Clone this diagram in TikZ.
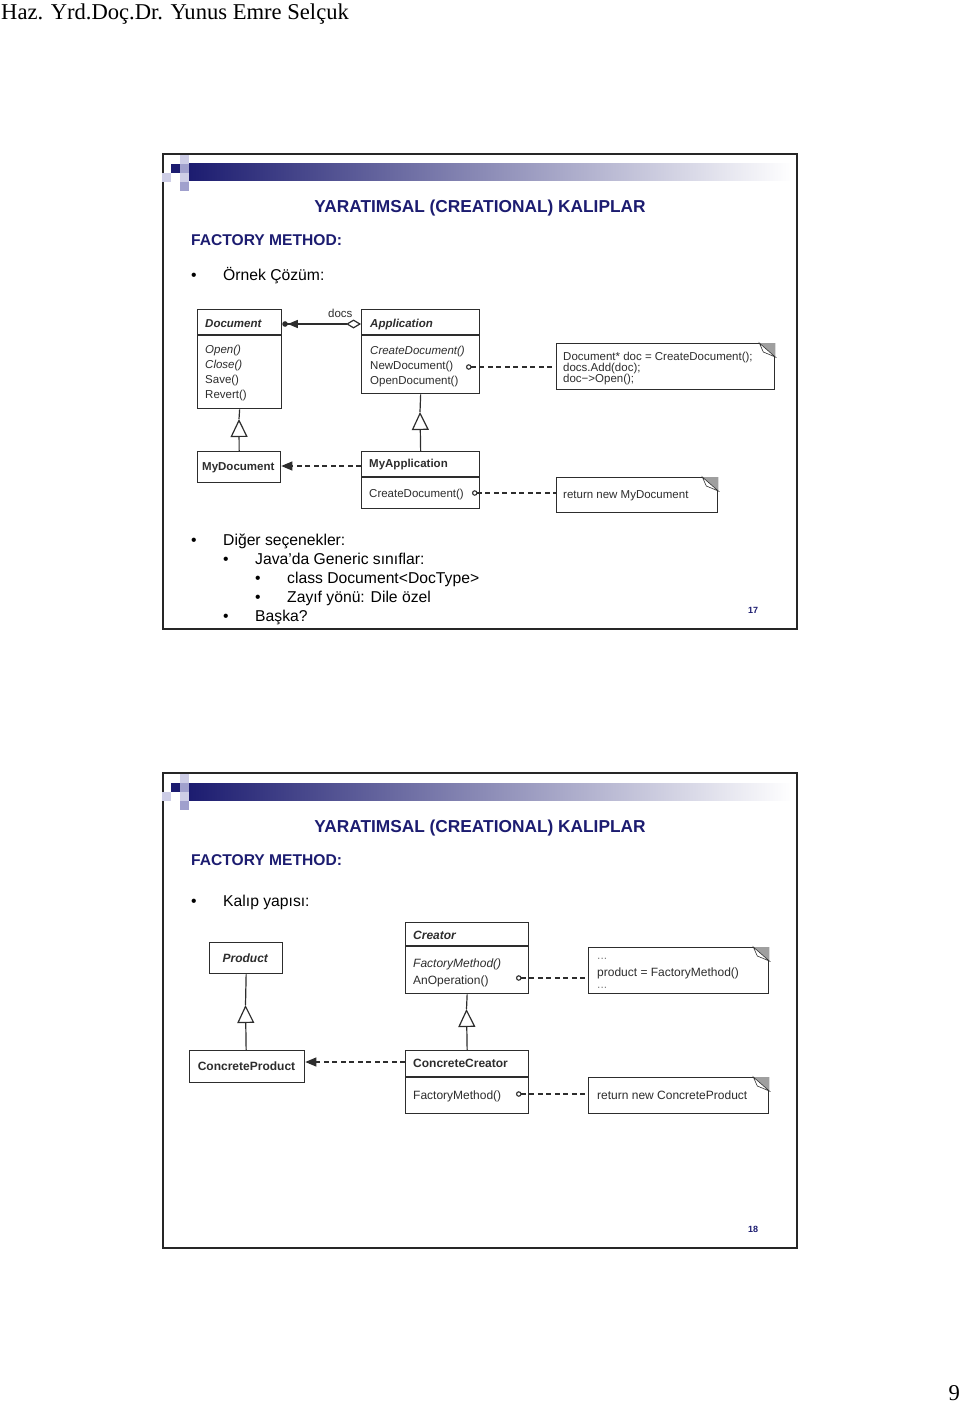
\documentclass[tikz,border=0pt]{standalone}
\usepackage{fontspec}
\setmainfont{Liberation Sans}
\newfontfamily\timesf{Liberation Serif}
\usetikzlibrary{arrows.meta}
\definecolor{navy}{RGB}{28,28,112}
\definecolor{umlgray}{RGB}{45,45,45}
\definecolor{lavA}{RGB}{205,205,230}
\definecolor{lavB}{RGB}{160,160,205}
\newcommand\foldcorner[1]{%
  \fill[gray!75] ([xshift=-16pt]#1.north east) -- (#1.north east) -- ([yshift=-14pt]#1.north east) -- cycle;
  \filldraw[fill=white, draw=umlgray, line width=0.6pt] ([xshift=-16pt]#1.north east) -- ([yshift=-14pt]#1.north east) -- ([xshift=-12pt,yshift=-9pt]#1.north east) -- cycle;}
\newcommand\slidedeco[1]{%
  \begin{scope}[yshift=-#1pt]
  \shade[left color=navy, right color=white] (189,164) rectangle (792,181);
  \fill[navy] (171,164) rectangle (180,173);
  \fill[lavA] (180,155) rectangle (189,164);
  \fill[lavB] (180,164) rectangle (189,173);
  \fill[lavA] (180,173) rectangle (189,182);
  \fill[lavA] (162,173) rectangle (171,182);
  \fill[lavB] (180,182) rectangle (189,191);
  \end{scope}}
\begin{document}
\begin{tikzpicture}[x=1pt,y=-1pt,
  umlbox/.style={draw=umlgray, line width=1.3pt, anchor=north west, inner sep=0pt, fill=white},
  umlline/.style={draw=umlgray, line width=1.2pt},
  umldash/.style={draw=umlgray, line width=1.1pt, dash pattern=on 5pt off 3.5pt},
  ut/.style={anchor=base west, inner sep=0pt, text=umlgray, font=\fontsize{\umlfs}{13}\selectfont},
  utc/.style={ut, anchor=base},
  slideframe/.style={draw=black!85, line width=1.8pt},
  titletxt/.style={anchor=base, inner sep=0pt, text=navy, font=\fontsize{17.3}{20}\selectfont\bfseries},
  fmtxt/.style={anchor=base west, inner sep=0pt, text=navy, font=\fontsize{15.6}{18}\selectfont\bfseries},
  bodytxt/.style={anchor=base west, inner sep=0pt, font=\fontsize{15.7}{18}\selectfont},
  pagenum/.style={inner sep=0pt, text=navy, font=\fontsize{9}{10}\selectfont\bfseries},
  inh/.style={umlline, -{Triangle[fill=white,length=18pt,width=17pt]}},
  dep/.style={umldash, -{Triangle[length=11pt,width=9pt]}},
  notelink/.style={umldash, {Circle[open,length=5.5pt,width=5.5pt]}-}
]
\useasboundingbox (0,0) rectangle (960,1404);
\def\umlfs{11.5}
% page header and number
\node[anchor=base west, inner sep=0pt, font=\timesf\fontsize{22.6}{26}\selectfont] (hdr) at (1,20) {Haz. Yrd.Doç.Dr. Yunus Emre Selçuk};
\node[anchor=base east, inner sep=0pt, font=\timesf\fontsize{22.6}{26}\selectfont] (pg) at (960,1400) {9};

% ================= slide 1 =================
\draw[slideframe] (163,154) rectangle (797,629);
\slidedeco{0}
\node[titletxt] (t1) at (480,213) {YARATIMSAL (CREATIONAL) KALIPLAR};
\node[fmtxt] (fm1) at (191,246) {FACTORY METHOD:};
\node[bodytxt] (b1d) at (191,281) {•};
\node[bodytxt] (b1) at (223,281) {Örnek Çözüm:};

% classes
\node[umlbox, minimum width=84pt, minimum height=99pt] (doc) at (197,309) {};
\draw[umlline] ([yshift=-26pt]doc.north west) -- ([yshift=-26pt]doc.north east);
\node[ut] (docT) at (205,327) {\textbf{\textit{Document}}};
\node[ut] (docM1) at (205,353) {\textit{Open()}};
\node[ut] (docM2) at (205,368) {\textit{Close()}};
\node[ut] (docM3) at (205,383) {Save()};
\node[ut] (docM4) at (205,398) {Revert()};

\node[umlbox, minimum width=118pt, minimum height=84pt] (app) at (361,309) {};
\draw[umlline] ([yshift=-26pt]app.north west) -- ([yshift=-26pt]app.north east);
\node[ut] (appT) at (370,327) {\textbf{\textit{Application}}};
\node[ut] (appM1) at (370,354) {\textit{CreateDocument()}};
\node[ut] (appM2) at (370,369) {NewDocument()};
\node[ut] (appM3) at (370,384) {OpenDocument()};

\node[umlbox, minimum width=218pt, minimum height=46pt] (n1) at (556,343) {};
\foldcorner{n1}
\node[ut] (n1a) at (563,360) {Document* doc = CreateDocument();};
\node[ut] (n1b) at (563,371) {docs.Add(doc);};
\node[ut] (n1c) at (563,382) {doc−>Open();};

\node[umlbox, minimum width=83pt, minimum height=31pt] (mydoc) at (197,451) {};
\node[ut] (mydocT) at (202,470) {\textbf{MyDocument}};

\node[umlbox, minimum width=118pt, minimum height=57pt] (myapp) at (361,451) {};
\draw[umlline] ([yshift=-26pt]myapp.north west) -- ([yshift=-26pt]myapp.north east);
\node[ut] (myappT) at (369,467) {\textbf{MyApplication}};
\node[ut] (myappM) at (369,497) {CreateDocument()};

\node[umlbox, minimum width=161pt, minimum height=35pt] (n2) at (556,477) {};
\foldcorner{n2}
\node[ut] (n2a) at (563,498) {return new MyDocument};

% connectors slide 1
\coordinate (agg) at ([yshift=-15pt]doc.north east);
\draw[umlline, {Circle[length=5.5pt] Triangle[length=10pt,width=8pt]}-{Diamond[fill=white,length=15pt,width=9pt]}] (agg) -- (agg -| app.west);
\node[ut] (docs) at (328,317) {docs};
\coordinate (tri1) at (239,419);
\draw[inh] (mydoc.north) -- (tri1);
\draw[umlline] (tri1) -- (doc.south);
\coordinate (tri2) at (420,412);
\draw[inh] (myapp.north) -- (tri2);
\draw[umlline] (tri2) -- (app.south);
\coordinate (d1) at ([yshift=-15pt]myapp.north west);
\draw[dep] (d1) -- (d1 -| mydoc.east);
\coordinate (c1) at (466,367);
\draw[notelink] (c1) -- (c1 -| n1.west);
\coordinate (c2) at (472,493);
\draw[notelink] (c2) -- (c2 -| n2.west);

\node[bodytxt] (b2d) at (191,545) {•};
\node[bodytxt] (b2) at (223,545) {Diğer seçenekler:};
\node[bodytxt] (b3d) at (223,564) {•};
\node[bodytxt] (b3) at (255,564) {Java’da Generic sınıflar:};
\node[bodytxt] (b4d) at (255,583) {•};
\node[bodytxt] (b4) at (287,583) {class Document<DocType>};
\node[bodytxt] (b5d) at (255,602) {•};
\node[bodytxt] (b5) at (287,602) {Zayıf yönü: Dile özel};
\node[bodytxt] (b6d) at (223,621) {•};
\node[bodytxt] (b6) at (255,621) {Başka?};
\node[pagenum] (p17) at (753,610) {17};

% ================= slide 2 =================
\def\umlfs{12}
\draw[slideframe] (163,773) rectangle (797,1248);
\slidedeco{619}
\node[titletxt] (t2) at (480,832) {YARATIMSAL (CREATIONAL) KALIPLAR};
\node[fmtxt] (fm2) at (191,865) {FACTORY METHOD:};
\node[bodytxt] (k1d) at (191,906) {•};
\node[bodytxt] (k1) at (223,906) {Kalıp yapısı:};

\node[umlbox, minimum width=73pt, minimum height=31pt] (prod) at (209,942) {};
\node[utc] (prodT) at (245.5,962) {\textbf{\textit{Product}}};

\node[umlbox, minimum width=123pt, minimum height=71pt] (cr) at (405,922) {};
\draw[umlline] ([yshift=-24pt]cr.north west) -- ([yshift=-24pt]cr.north east);
\node[ut] (crT) at (413,939) {\textbf{\textit{Creator}}};
\node[ut] (crM1) at (413,967) {\textit{FactoryMethod()}};
\node[ut] (crM2) at (413,984) {AnOperation()};

\node[umlbox, minimum width=180pt, minimum height=46pt] (n3) at (588,947) {};
\foldcorner{n3}
\node[ut, text=gray] (n3a) at (597,959) {...};
\node[ut] (n3b) at (597,976) {product = FactoryMethod()};
\node[ut, text=gray] (n3c) at (597,988) {...};

\node[umlbox, minimum width=115pt, minimum height=32pt] (cp) at (189,1050) {};
\node[utc] (cpT) at (246.5,1070) {\textbf{ConcreteProduct}};

\node[umlbox, minimum width=123pt, minimum height=63pt] (cc) at (405,1050) {};
\draw[umlline] ([yshift=-27pt]cc.north west) -- ([yshift=-27pt]cc.north east);
\node[ut] (ccT) at (413,1067) {\textbf{ConcreteCreator}};
\node[ut] (ccM) at (413,1099) {FactoryMethod()};

\node[umlbox, minimum width=180pt, minimum height=36pt] (n4) at (588,1077) {};
\foldcorner{n4}
\node[ut] (n4a) at (597,1099) {return new ConcreteProduct};

\coordinate (tri3) at (245.5,1005);
\draw[inh] (cp.north -| prod.south) -- (tri3);
\draw[umlline] (tri3) -- (prod.south);
\coordinate (tri4) at (466.5,1009);
\draw[inh] (cc.north) -- (tri4);
\draw[umlline] (tri4) -- (cr.south);
\coordinate (d2) at ([yshift=-12pt]cc.north west);
\draw[dep] (d2) -- (d2 -| cp.east);
\coordinate (c3) at (516,978);
\draw[notelink] (c3) -- (c3 -| n3.west);
\coordinate (c4) at (516,1094);
\draw[notelink] (c4) -- (c4 -| n4.west);
\node[pagenum] (p18) at (753,1229) {18};
\end{tikzpicture}
\end{document}
